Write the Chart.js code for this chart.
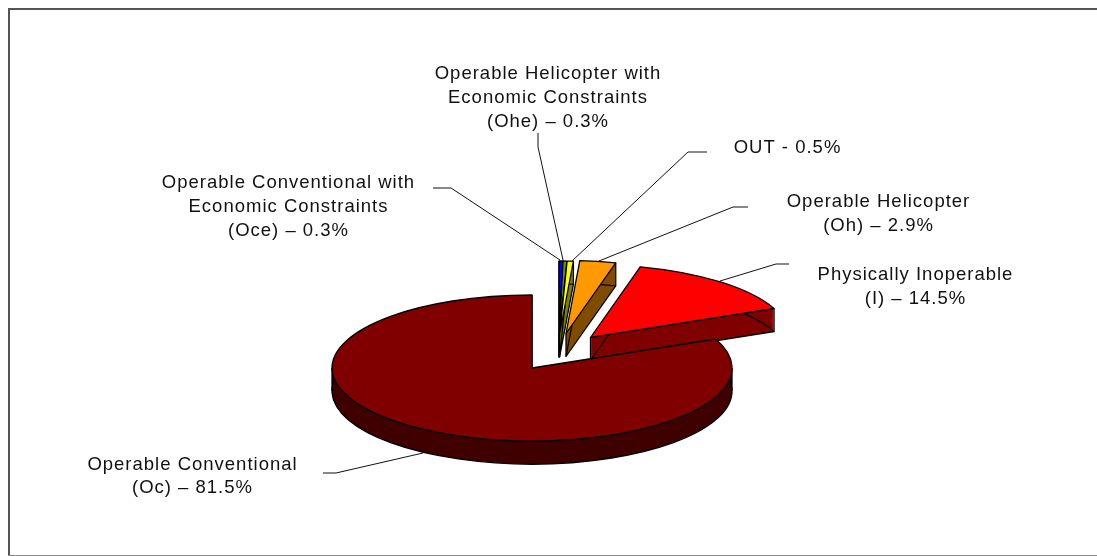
<!DOCTYPE html>
<html>
<head>
<meta charset="utf-8">
<style>html,body{margin:0;padding:0;background:#fff}#w{position:relative;width:1097px;height:556px}canvas{display:block}</style>
<script src="https://cdn.jsdelivr.net/npm/chart.js@4"></script>
</head>
<body>
<div id="w"><canvas id="c" width="1097" height="556"></canvas></div>
<script>
// Data
const categories = ['Oce', 'Ohe', 'OUT', 'Oh', 'I', 'Oc'];
const shares = [0.3, 0.3, 0.5, 2.9, 14.5, 81.5];

// Styling
const topColors = ['#0000ff', '#669900', '#ffff00', '#ff9900', '#ff0000', '#800000'];
const wallColors = ['#000080', '#334d00', '#808000', '#804c00', '#800000', '#400000'];
const explodeX = [27, 27.3, 27.6, 34, 58.5, 0];
const explodeY = [-34, -34, -34, -34.5, -30.5, 0];
const tilt = 0.365, depth = 23, shiftY = 90;

// Callout texts and placement
const labelLines = [
  ['Operable Conventional with', 'Economic Constraints', '(Oce) – 0.3%'],
  ['Operable Helicopter with', 'Economic Constraints', '(Ohe) – 0.3%'],
  ['OUT - 0.5%'],
  ['Operable Helicopter', '(Oh) – 2.9%'],
  ['Physically Inoperable', '(I) – 14.5%'],
  ['Operable Conventional', '(Oc) – 81.5%']
];
const labelX = [288.5, 548, 787.5, 878.5, 915.5, 192.5];
const labelY = [188, 79, 153, 207, 280, 469.5];
const labelLeading = 23.8;
const leaders = [
  [[433,188],[451,188],[560,260]],
  [[538,133],[538,147],[563,260]],
  [[707,152],[688,152],[572,261]],
  [[748,207],[733,207],[599,261]],
  [[789,264],[776,264],[720,281]],
  [[323,473],[336,473],[423,453]]
];

function slicePath(ctx, el, i, dy) {
  const p = el.getProps(['x', 'y', 'startAngle', 'endAngle', 'outerRadius'], true);
  ctx.save();
  ctx.translate(p.x + explodeX[i], p.y + shiftY + explodeY[i] + dy);
  ctx.scale(1, tilt);
  ctx.beginPath();
  ctx.moveTo(0, 0);
  ctx.arc(0, 0, p.outerRadius, p.startAngle, p.endAngle);
  ctx.closePath();
  ctx.restore();
}

const pie3d = {
  id: 'pie3d',
  beforeDraw(chart) {
    const ctx = chart.ctx;
    ctx.save();
    ctx.fillStyle = '#fff';
    ctx.fillRect(0, 0, 1097, 556);
    ctx.fillStyle = '#555';
    ctx.fillRect(8, 8, 1089, 2);
    ctx.fillRect(8, 8, 2, 548);
    ctx.fillStyle = '#888';
    ctx.fillRect(8, 555, 1089, 1);
    ctx.restore();
  },
  beforeDatasetsDraw(chart) {
    const ctx = chart.ctx;
    const els = chart.getDatasetMeta(0).data;
    ctx.save();
    ctx.lineJoin = 'round';
    els.forEach((el, i) => {
      // side wall
      ctx.fillStyle = wallColors[i];
      for (let d = depth; d >= 1; d--) { slicePath(ctx, el, i, d); ctx.fill(); }
      ctx.strokeStyle = '#000';
      ctx.lineWidth = 1.3;
      slicePath(ctx, el, i, depth); ctx.stroke();
      const p = el.getProps(['x', 'y', 'startAngle', 'endAngle', 'outerRadius'], true);
      const cx = p.x + explodeX[i], cy = p.y + shiftY + explodeY[i];
      const verts = [[0, 0], [Math.cos(p.startAngle), Math.sin(p.startAngle)], [Math.cos(p.endAngle), Math.sin(p.endAngle)]];
      [0, Math.PI, 2 * Math.PI].forEach(a => {
        if (a >= p.startAngle && a <= p.endAngle) verts.push([Math.cos(a), Math.sin(a)]);
      });
      verts.forEach(v => {
        const x = cx + v[0] * p.outerRadius, y = cy + v[1] * p.outerRadius * tilt;
        ctx.beginPath(); ctx.moveTo(x, y); ctx.lineTo(x, y + depth); ctx.stroke();
      });
      // top face: the library's own arc element, flattened
      ctx.save();
      ctx.translate(p.x + explodeX[i], p.y + shiftY + explodeY[i]);
      ctx.scale(1, tilt);
      ctx.translate(-p.x, -p.y);
      el.draw(ctx);
      ctx.restore();
      slicePath(ctx, el, i, 0);
      ctx.stroke();
    });
    ctx.restore();
    return false;
  },
  afterDraw(chart) {
    const ctx = chart.ctx;
    ctx.save();
    ctx.strokeStyle = '#111';
    ctx.lineWidth = 1;
    leaders.forEach(pts => {
      ctx.beginPath();
      pts.forEach((q, k) => k ? ctx.lineTo(q[0], q[1] ) : ctx.moveTo(q[0], q[1]));
      ctx.stroke();
    });
    ctx.fillStyle = '#111';
    ctx.font = '18.5px "Liberation Sans"';
    ctx.letterSpacing = '1px';
    ctx.textAlign = 'center';
    ctx.textBaseline = 'alphabetic';
    labelLines.forEach((lines, i) => {
      lines.forEach((t, k) => ctx.fillText(t, labelX[i], labelY[i] + k * labelLeading));
    });
    ctx.restore();
  }
};

new Chart(document.getElementById('c'), {
  type: 'pie',
  data: {
    labels: categories,
    datasets: [{ data: shares, backgroundColor: topColors, borderWidth: 0 }]
  },
  options: {
    responsive: false,
    animation: false,
    layout: { padding: { left: 332, right: 365, top: 78, bottom: 78 } },
    plugins: { legend: { display: false }, tooltip: { enabled: false } }
  },
  plugins: [pie3d]
});
</script>
</body>
</html>
